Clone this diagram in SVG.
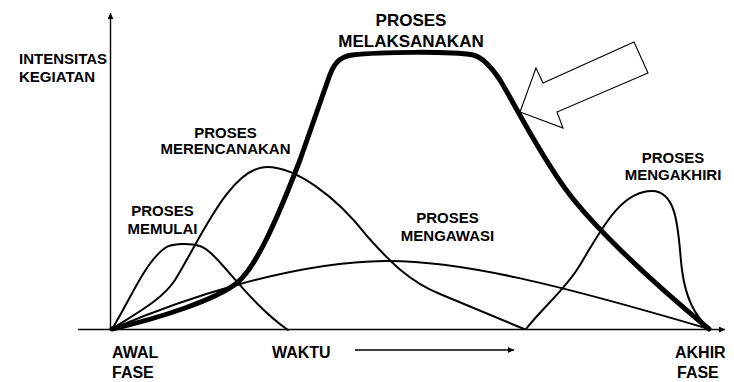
<svg xmlns="http://www.w3.org/2000/svg" width="734" height="382" viewBox="0 0 734 382">
<style>
text{font-family:"Liberation Sans",Arial,sans-serif;font-weight:bold;fill:#000}
.lbl{font-size:15px;text-anchor:middle}
.big{font-size:17px;text-anchor:middle}
.ax{font-size:15px}
.bt{font-size:16px}
.axis{stroke:#000;stroke-width:1.4;fill:none}
.curve{stroke:#000;stroke-width:2;fill:none;stroke-linejoin:round;stroke-linecap:round}
.thick{stroke:#000;stroke-width:5;fill:none;stroke-linejoin:round;stroke-linecap:round}
</style>
<defs>
<marker id="ah" viewBox="0 0 10 10" refX="10" refY="5" markerUnits="userSpaceOnUse" markerWidth="8" markerHeight="6" orient="auto">
<path d="M0,0 L10,5 L0,10 z" fill="#000"/>
</marker>
</defs>
<rect width="734" height="382" fill="#fff"/>
<g id="axes">
<line class="axis" x1="110.5" y1="329.5" x2="110.5" y2="13" marker-end="url(#ah)"/>
<line class="axis" x1="78" y1="329.5" x2="725" y2="329.5" marker-end="url(#ah)"/>
<line class="axis" x1="355" y1="350" x2="514" y2="350" marker-end="url(#ah)"/>
</g>
<g id="connectors">
<path id="mengawasi-curve" class="curve" d="M112,329 C180,300 290,262 385,261 C460,260 560,285 709,329"/>
<path id="memulai-curve" class="curve" d="M112,329 C130,300 145,262 165,248 C172,243 190,243 200,246 C218,252 245,300 288,330"/>
<path id="merencanakan-curve" class="curve" d="M112,329 C135,314 162,300 175,280 C200,240 230,167 267,167 C295,167 335,195 367,236 C390,262 410,282 440,294 L524,329"/>
<path id="mengakhiri-curve" class="curve" d="M526,329 C545,305 565,290 580,265 C600,232 620,191 652,191 C680,191 678,240 682,270 C686,300 695,315 709,329"/>
<path id="melaksanakan-curve" class="thick" d="M112,329 C160,318 215,300 237,283 C255,268 275,225 300,160 L328,80 C333,65 338,57 352,55 C380,52 450,51 473,55 C482,57 490,65 500,80 C515,105 540,155 567,191 C590,222 640,272 709,329"/>
</g>
<g id="pointer-arrow">
<polygon points="520,112 536,68 543,83 634,42 648,73 557,112 563,128" fill="#fff" stroke="#000" stroke-width="1.1" stroke-linejoin="miter"/>
</g>
<g id="axis-labels">
<text class="ax" x="19" y="64">INTENSITAS</text>
<text class="ax" x="19" y="82">KEGIATAN</text>
<text class="bt" x="112" y="358">AWAL</text>
<text class="bt" x="112" y="378">FASE</text>
<text class="bt" x="272" y="358">WAKTU</text>
<text class="bt" x="675" y="358">AKHIR</text>
<text class="bt" x="677" y="378">FASE</text>
</g>
<g id="node-memulai">
<text class="lbl" x="162.5" y="216">PROSES</text>
<text class="lbl" x="162.5" y="234">MEMULAI</text>
</g>
<g id="node-merencanakan">
<text class="lbl" x="225.5" y="138">PROSES</text>
<text class="lbl" x="225.5" y="154">MERENCANAKAN</text>
</g>
<g id="node-melaksanakan">
<text class="big" x="411" y="26">PROSES</text>
<text class="big" x="411" y="47">MELAKSANAKAN</text>
</g>
<g id="node-mengawasi">
<text class="lbl" x="447.5" y="223">PROSES</text>
<text class="lbl" x="447.5" y="241">MENGAWASI</text>
</g>
<g id="node-mengakhiri">
<text class="lbl" x="673" y="163">PROSES</text>
<text class="lbl" x="673" y="180">MENGAKHIRI</text>
</g>
</svg>
